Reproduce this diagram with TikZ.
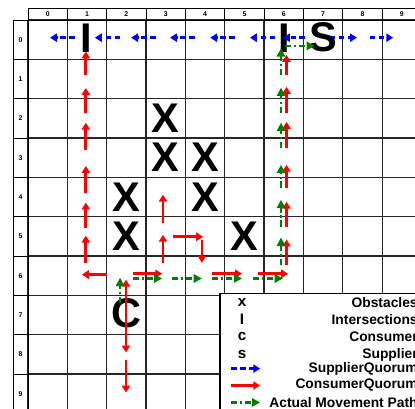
\documentclass[tikz,border=0pt]{standalone}
\usepackage{fontspec}
\setmainfont{Liberation Sans}
\usetikzlibrary{arrows.meta}
\definecolor{pathgreen}{RGB}{0,128,0}

\begin{document}
\begin{tikzpicture}[x=1cm,y=-1cm,
  every node/.style={inner sep=0pt},
  big/.style={font=\fontsize{30}{30}\selectfont\bfseries},
  hdr/.style={font=\fontsize{5}{6}\selectfont\bfseries},
  key/.style={font=\fontsize{11}{12}\selectfont\bfseries},
  keytext/.style={font=\fontsize{10}{12}\selectfont\bfseries,anchor=east},
  sq/.style={blue,line width=2pt,dash pattern=on 4pt off 2.5pt,-{Triangle[length=5pt,width=6pt]}},
  cq/.style={red,line width=2pt,-{Triangle[length=5pt,width=6pt]}},
  amp/.style={pathgreen,line width=1.6pt,dash pattern=on 4.5pt off 2pt on 1.5pt off 2pt,-{Triangle[length=6pt,width=6pt]}}]
  \clip (-0.712,-0.508) rectangle (9.835,9.886);

  %grid
  \draw[black!85,line width=0.9pt] (0,0) grid (10,10);
  \foreach \c in {0,...,9} {
    \draw[line width=0.6pt] (\c,-0.3) rectangle (\c+1,0);
    \node[hdr] (col\c) at (\c+0.5,-0.15) {\c};
    \draw[line width=0.6pt] (-0.38,\c) rectangle (0,\c+1);
    \node[hdr] (row\c) at (-0.19,\c+0.5) {\c};
  }

  %obstacles
  \foreach \c/\r in {3/2,3/3,4/3,2/4,4/4,2/5,5/5}
    \node[big] (x\c\r) at (\c+0.5,\r+0.5) {X};
  \node[big] (i1) at (1.48,0.47) {I};
  \node[big] (i6) at (6.5,0.47) {I};
  \node[big] (c) at (2.49,7.44) {C};

  %supplier quorum
  \foreach \a/\b in {1.19/0.56,2.34/1.70,3.25/2.62,4.24/3.61,5.26/4.63,6.28/5.64,7.04/6.48}
    \draw[sq] (\a,0.45) -- (\b,0.45);
  \draw[sq] (7.67,0.45) -- (8.36,0.45);
  \draw[sq] (8.69,0.45) -- (9.28,0.45);
  \node[big] (s) at (7.5,0.44) {S};

  %consumer quorum
  \foreach \a/\b in {1.40/0.80,2.36/1.73,3.30/2.61,4.39/3.71,5.28/4.64,6.17/5.48}
    \draw[cq] (1.47,\a) -- (1.47,\b);
  \foreach \a/\b in {1.40/0.89,2.36/1.70,3.25/2.59,4.26/3.68,5.25/4.62,6.22/5.58}
    \draw[cq] (6.57,\a) -- (6.57,\b);
  \draw[cq] (2.0,6.47) -- (1.37,6.47);
  \draw[cq] (2.67,6.45) -- (3.41,6.45);
  \draw[cq] (4.68,6.45) -- (5.44,6.45);
  \draw[cq] (5.85,6.45) -- (6.61,6.45);
  \draw[cq] (3.43,6.17) -- (3.43,5.46);
  \draw[cq] (3.43,5.15) -- (3.43,4.44);
  \draw[cq] (3.68,5.51) -- (4.45,5.51);
  \draw[cq] (4.42,5.58) -- (4.42,6.17);
  \draw[cq] (2.49,7.74) -- (2.49,6.60);
  \draw[cq] (2.49,7.44) -- (2.49,8.45);
  \draw[cq] (2.49,8.63) -- (2.49,9.47);

  %actual movement path
  \draw[amp] (2.34,7.2) -- (2.34,6.55);
  \foreach \a/\b in {2.67/3.41,3.66/4.42,4.68/5.44,5.72/6.48}
    \draw[amp] (\a,6.57) -- (\b,6.57);
  \foreach \a/\b in {1.40/0.72,2.36/1.72,3.25/2.61,4.26/3.68,5.25/4.57,6.22/5.53}
    \draw[amp] (6.43,\a) -- (6.43,\b);
  \draw[amp] (6.53,0.66) -- (7.29,0.66);

  %legend
  \draw[fill=white,line width=0.8pt] (4.88,6.95) rectangle (10.2,10.2);
  \node[key] (kx) at (5.44,7.18) {x};
  \node[key] (ki) at (5.44,7.61) {I};
  \node[key] (kc) at (5.44,8.05) {c};
  \node[key] (ks) at (5.44,8.50) {s};
  \draw[sq] (5.16,8.86) -- (5.90,8.86);
  \draw[cq] (5.16,9.29) -- (5.90,9.29);
  \draw[amp] (5.16,9.72) -- (5.90,9.72);
  \node[keytext] (tx) at (9.91,7.18) {Obstacles};
  \node[keytext] (ti) at (9.91,7.61) {Intersections};
  \node[keytext] (tc) at (9.91,8.05) {Consumer};
  \node[keytext] (ts) at (9.91,8.50) {Supplier};
  \node[keytext] (tsq) at (9.91,8.86) {SupplierQuorum};
  \node[keytext] (tcq) at (9.91,9.29) {ConsumerQuorum};
  \node[keytext] (tamp) at (9.91,9.72) {Actual Movement Path};
\end{tikzpicture}
\end{document}
